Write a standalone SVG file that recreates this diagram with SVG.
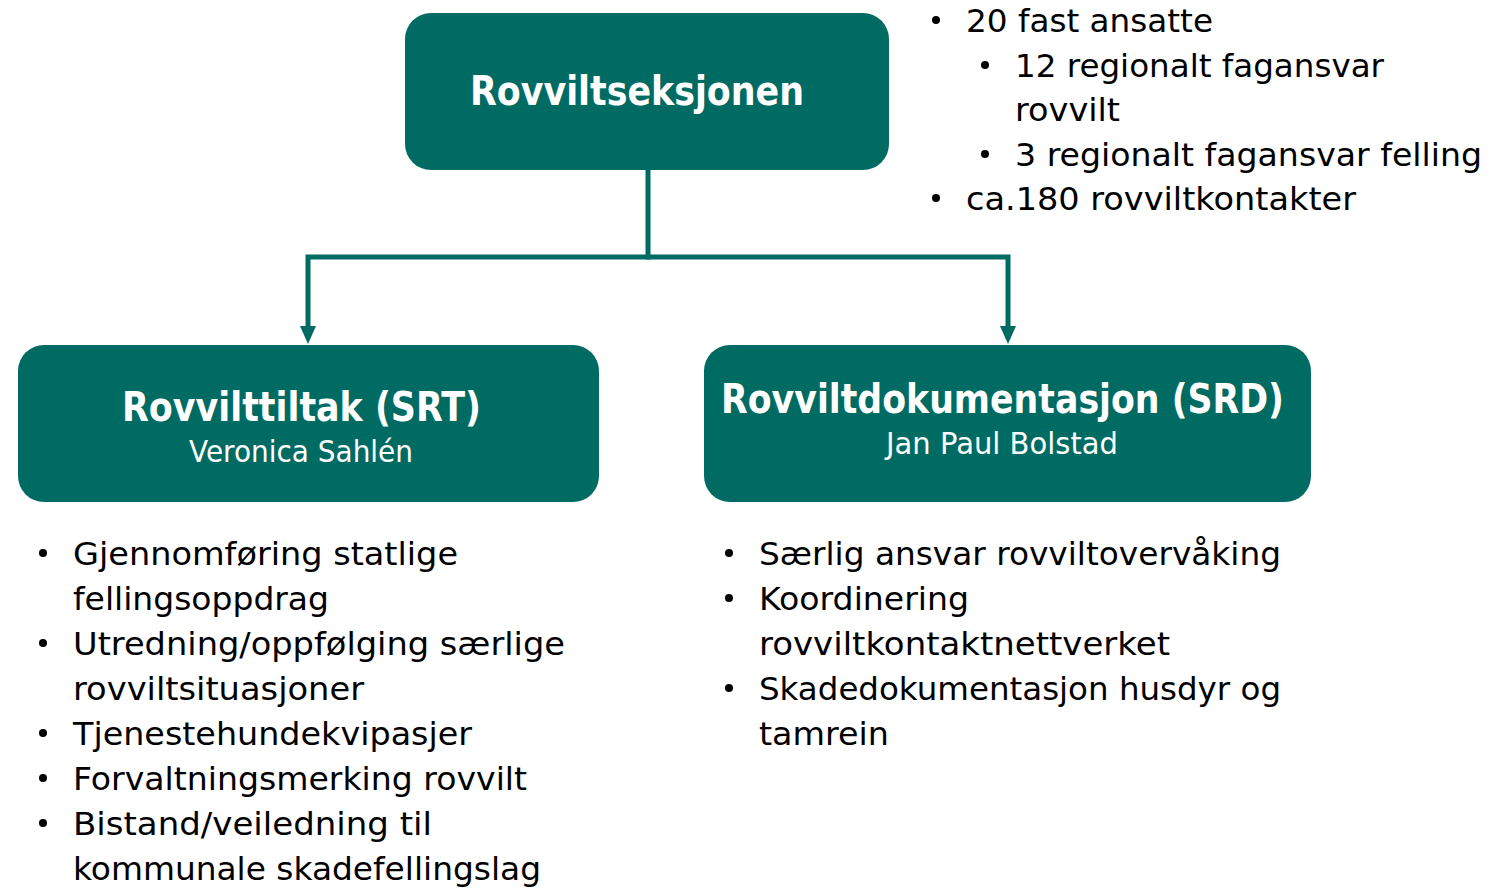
<svg xmlns="http://www.w3.org/2000/svg" width="1498" height="888" viewBox="0 0 1498 888">
<style>
.box{fill:#006b63;}
.title{font-family:"DejaVu Sans","Liberation Sans",sans-serif;font-weight:bold;font-size:40px;fill:#ffffff;}
.sub{font-family:"DejaVu Sans","Liberation Sans",sans-serif;font-size:30px;fill:#ffffff;}
.li{font-family:"DejaVu Sans","Liberation Sans",sans-serif;font-size:32px;fill:#000000;}
.bul{fill:#000000;}
.conn{fill:none;stroke:#006b63;stroke-width:5;}
</style>
<defs>
<marker id="arr" markerUnits="userSpaceOnUse" markerWidth="18" markerHeight="16" refX="0" refY="8" orient="auto" viewBox="0 0 18 16">
<path d="M0,0 L18,8 L0,16 z" fill="#006b63"/>
</marker>
</defs>
<rect width="1498" height="888" fill="#ffffff"/>
<g id="connectors">
<path class="conn" d="M648,170 V257 H308 V326" marker-end="url(#arr)"/>
<path class="conn" d="M646,257 H1008 V326" marker-end="url(#arr)"/>
</g>
<g id="node-rovviltseksjonen">
<rect class="box" x="405" y="13" width="484" height="157" rx="26" ry="26"/>
<text class="title" x="470" y="105" textLength="334" lengthAdjust="spacingAndGlyphs">Rovviltseksjonen</text>
</g>
<g id="node-srt">
<rect class="box" x="18" y="345" width="581" height="157" rx="26" ry="26"/>
<text class="title" x="122" y="421" textLength="359" lengthAdjust="spacingAndGlyphs">Rovvilttiltak (SRT)</text>
<text class="sub" x="189" y="462" textLength="224" lengthAdjust="spacingAndGlyphs">Veronica Sahlén</text>
</g>
<g id="node-srd">
<rect class="box" x="704" y="345" width="607" height="157" rx="26" ry="26"/>
<text class="title" x="721" y="413" textLength="563" lengthAdjust="spacingAndGlyphs">Rovviltdokumentasjon (SRD)</text>
<text class="sub" x="886" y="454" textLength="232" lengthAdjust="spacingAndGlyphs">Jan Paul Bolstad</text>
</g>
<g id="list-top">
<circle class="bul" cx="936" cy="20" r="4"/>
<text class="li" x="966" y="32" textLength="247" lengthAdjust="spacingAndGlyphs">20 fast ansatte</text>
<circle class="bul" cx="985" cy="65" r="4"/>
<text class="li" x="1015" y="77" textLength="369" lengthAdjust="spacingAndGlyphs">12 regionalt fagansvar</text>
<text class="li" x="1015" y="121" textLength="105" lengthAdjust="spacingAndGlyphs">rovvilt</text>
<circle class="bul" cx="985" cy="154" r="4"/>
<text class="li" x="1015" y="166" textLength="467" lengthAdjust="spacingAndGlyphs">3 regionalt fagansvar felling</text>
<circle class="bul" cx="936" cy="198" r="4"/>
<text class="li" x="966" y="210" textLength="390" lengthAdjust="spacingAndGlyphs">ca.180 rovviltkontakter</text>
</g>
<g id="list-srt">
<circle class="bul" cx="43" cy="553" r="4"/>
<text class="li" x="73" y="565" textLength="385" lengthAdjust="spacingAndGlyphs">Gjennomføring statlige</text>
<text class="li" x="73" y="610" textLength="256" lengthAdjust="spacingAndGlyphs">fellingsoppdrag</text>
<circle class="bul" cx="43" cy="643" r="4"/>
<text class="li" x="73" y="655" textLength="492" lengthAdjust="spacingAndGlyphs">Utredning/oppfølging særlige</text>
<text class="li" x="73" y="700" textLength="291" lengthAdjust="spacingAndGlyphs">rovviltsituasjoner</text>
<circle class="bul" cx="43" cy="733" r="4"/>
<text class="li" x="73" y="745" textLength="399" lengthAdjust="spacingAndGlyphs">Tjenestehundekvipasjer</text>
<circle class="bul" cx="43" cy="778" r="4"/>
<text class="li" x="73" y="790" textLength="454" lengthAdjust="spacingAndGlyphs">Forvaltningsmerking rovvilt</text>
<circle class="bul" cx="43" cy="823" r="4"/>
<text class="li" x="73" y="835" textLength="359" lengthAdjust="spacingAndGlyphs">Bistand/veiledning til</text>
<text class="li" x="73" y="880" textLength="468" lengthAdjust="spacingAndGlyphs">kommunale skadefellingslag</text>
</g>
<g id="list-srd">
<circle class="bul" cx="729" cy="553" r="4"/>
<text class="li" x="759" y="565" textLength="522" lengthAdjust="spacingAndGlyphs">Særlig ansvar rovviltovervåking</text>
<circle class="bul" cx="729" cy="598" r="4"/>
<text class="li" x="759" y="610" textLength="210" lengthAdjust="spacingAndGlyphs">Koordinering</text>
<text class="li" x="759" y="655" textLength="411" lengthAdjust="spacingAndGlyphs">rovviltkontaktnettverket</text>
<circle class="bul" cx="729" cy="688" r="4"/>
<text class="li" x="759" y="700" textLength="522" lengthAdjust="spacingAndGlyphs">Skadedokumentasjon husdyr og</text>
<text class="li" x="759" y="745" textLength="130" lengthAdjust="spacingAndGlyphs">tamrein</text>
</g>
</svg>
